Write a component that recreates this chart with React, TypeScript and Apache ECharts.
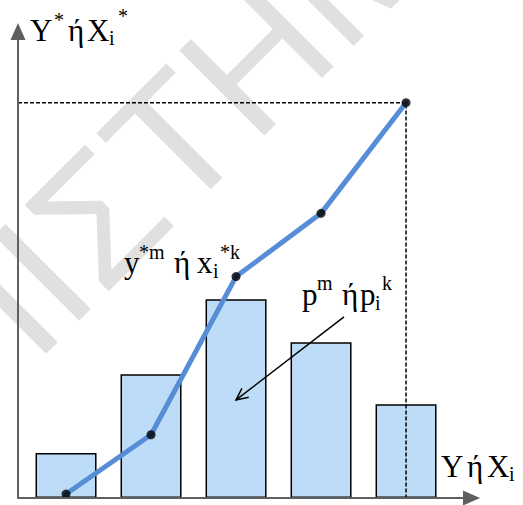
import React, { useEffect, useRef } from "react";
import * as echarts from "echarts";

// Class positions, relative frequencies (bars) and cumulative values (polyline)
const classes = [1, 2, 3, 4, 5];
const frequencies = [11.4, 31.3, 50.3, 39.4, 23.7];
const cumulative = [1, 16, 56, 72, 100];

// Axis extents in data units
const xRange = [0.435, 5.77];
const yRange = [0, 118];

// Pointer arrow from the "p" label towards the middle bar (data units)
const pointerFrom = [4.27, 45.8];
const pointerTo = [3.0, 24.8];

const SERIF = "'Liberation Serif', 'Times New Roman', serif";
const BASE = 31;
const SMALL = 20;

type Piece = { t: string; x: number; b: number; s?: number };

// Each label is built from pieces so that sub/superscripts sit correctly
const labelPieces: Piece[][] = [
  [
    { t: "Y", x: 30, b: 41 },
    { t: "*", x: 54, b: 27, s: SMALL },
    { t: "ή", x: 68, b: 41 },
    { t: "X", x: 87, b: 41 },
    { t: "i", x: 109, b: 45, s: SMALL },
    { t: "*", x: 118, b: 23, s: SMALL },
  ],
  [
    { t: "y", x: 124, b: 273 },
    { t: "*m", x: 139, b: 259, s: SMALL },
    { t: "ή", x: 174, b: 273 },
    { t: "x", x: 197, b: 273 },
    { t: "i", x: 213, b: 278, s: SMALL },
    { t: "*k", x: 220, b: 259, s: SMALL },
  ],
  [
    { t: "p", x: 302, b: 305 },
    { t: "m", x: 317, b: 290, s: SMALL },
    { t: "ή", x: 342, b: 305 },
    { t: "p", x: 360, b: 305 },
    { t: "i", x: 375, b: 310, s: SMALL },
    { t: "k", x: 382, b: 290, s: SMALL },
  ],
  [
    { t: "Y", x: 441, b: 477 },
    { t: "ή", x: 467, b: 477 },
    { t: "X", x: 487, b: 477 },
    { t: "i", x: 509, b: 481, s: SMALL },
  ],
];

function pieceEl(p: Piece) {
  const size = p.s ?? BASE;
  return {
    type: "text",
    x: p.x,
    y: p.b - 0.34 * size,
    z: 100,
    silent: true,
    style: {
      text: p.t,
      fill: "#000",
      font: `${size}px ${SERIF}`,
      textAlign: "left",
      textVerticalAlign: "middle",
      verticalAlign: "middle",
    },
  };
}

function axisCommon() {
  return {
    type: "value",
    z: 10,
    axisLine: {
      show: true,
      onZero: false,
      symbol: ["none", "triangle"],
      symbolSize: [15, 17],
      lineStyle: { color: "#5f5f5f", width: 2 },
    },
    axisTick: { show: false },
    axisLabel: { show: false },
    splitLine: { show: false },
  };
}

export default function App() {
  const ref = useRef<HTMLDivElement>(null);

  useEffect(() => {
    if (!ref.current) return;
    const chart = echarts.init(ref.current, undefined, { renderer: "svg" });
    const last = classes.length - 1;
    const curve = classes.map((c, i) => [c, cumulative[i]]);

    chart.setOption({
      animation: false,
      backgroundColor: "#fff",
      grid: { left: 18, right: 51.5, top: 31.5, bottom: 7, containLabel: false },
      xAxis: { ...axisCommon(), min: xRange[0], max: xRange[1] },
      yAxis: { ...axisCommon(), min: yRange[0], max: yRange[1] },
      series: [
        {
          type: "bar",
          data: classes.map((c, i) => [c, frequencies[i]]),
          barWidth: 61,
          itemStyle: { color: "#bddcf7", borderColor: "#000", borderWidth: 1.5 },
          z: 2,
        },
        {
          type: "line",
          data: [
            [xRange[0], cumulative[last]],
            [classes[last], cumulative[last]],
            [classes[last], 0],
          ],
          symbol: "none",
          lineStyle: { color: "#000", width: 1.5, type: [4, 2] },
          z: 3,
        },
        {
          type: "line",
          data: curve,
          symbol: "none",
          lineStyle: { color: "#568dd6", width: 5, cap: "round", join: "round" },
          z: 4,
        },
        {
          type: "scatter",
          data: curve,
          symbolSize: 9,
          itemStyle: { color: "#000" },
          z: 5,
        },
      ],
    });

    // Pointer arrow with an open head
    const [x1, y1] = chart.convertToPixel({ gridIndex: 0 }, pointerFrom) as number[];
    const [x2, y2] = chart.convertToPixel({ gridIndex: 0 }, pointerTo) as number[];
    const len = Math.hypot(x1 - x2, y1 - y2);
    const ux = (x1 - x2) / len;
    const uy = (y1 - y2) / len;
    const arm = (a: number) => [
      x2 + 13 * (ux * Math.cos(a) - uy * Math.sin(a)),
      y2 + 13 * (ux * Math.sin(a) + uy * Math.cos(a)),
    ];

    const wmSize = 175;
    chart.setOption({
      graphic: {
        elements: [
          {
            type: "group",
            x: -106,
            y: 502,
            rotation: 0.785,
            silent: true,
            children: [
              {
                type: "text",
                x: 0,
                y: -0.33 * wmSize,
                z: 0,
                style: {
                  text: "ΕΠΙΣΤΗΜΟΝΙΚΟ",
                  fill: "#e0e0e0",
                  font: `${wmSize}px 'Liberation Sans', Arial, sans-serif`,
                  textAlign: "left",
                  textVerticalAlign: "middle",
                  verticalAlign: "middle",
                },
              },
            ],
          },
          {
            type: "line",
            z: 50,
            silent: true,
            shape: { x1, y1, x2, y2 },
            style: { stroke: "#000", lineWidth: 1.5 },
          },
          {
            type: "polyline",
            z: 50,
            silent: true,
            shape: { points: [arm(0.45), [x2, y2], arm(-0.45)] },
            style: { stroke: "#000", lineWidth: 1.5, fill: null },
          },
          ...labelPieces.flat().map(pieceEl),
        ],
      },
    });

    return () => chart.dispose();
  }, []);

  return (
    <div
      ref={ref}
      style={{ position: "fixed", left: 0, top: 0, width: 523, height: 505, background: "#fff" }}
    />
  );
}
